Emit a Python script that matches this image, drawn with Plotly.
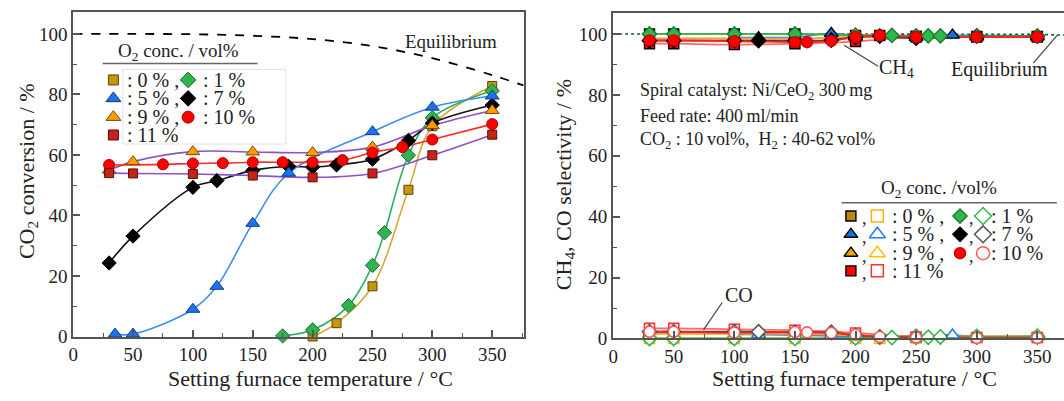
import plotly.graph_objects as go

FONT = "Liberation Serif"
INK = "#222222"
AXIS = "#555555"

# ---------------- Left panel: CO2 conversion (%) vs furnace temperature (°C) ----------------
t_0 = [200, 220, 250, 280, 300, 350]
conv_0 = [0.0, 4.4, 16.6, 48.5, 69.5, 82.8]
t_1 = [175, 200, 230, 250, 260, 280, 300, 350]
conv_1 = [0.2, 2.2, 10.2, 23.5, 34.3, 59.9, 72.3, 81.2]
t_5 = [35, 50, 100, 120, 150, 180, 250, 300, 350]
conv_5 = [0.8, 0.8, 9.0, 16.6, 37.4, 54.0, 67.7, 75.8, 79.5]
t_7 = [30, 50, 100, 120, 150, 180, 200, 220, 250, 280, 300, 350]
conv_7 = [24.3, 33.2, 49.3, 51.5, 54.9, 56.2, 56.0, 56.7, 58.6, 64.8, 70.5, 76.5]
t_9 = [30, 50, 100, 150, 200, 250, 300, 350]
conv_9 = [55.0, 57.8, 61.1, 61.0, 60.8, 62.6, 69.7, 74.7]
t_10 = [30, 75, 100, 125, 150, 175, 200, 225, 250, 275, 300, 350]
conv_10 = [56.7, 56.9, 57.2, 57.3, 57.6, 57.6, 57.6, 58.3, 60.8, 62.6, 65.1, 70.2]
t_11 = [30, 50, 100, 150, 200, 250, 300, 350]
conv_11 = [54.0, 53.9, 53.7, 53.2, 52.6, 53.9, 59.9, 66.7]
eq_t = [0, 50, 100, 150, 200, 250, 300, 350, 376]
eq_conv = [100.0, 100.0, 99.9, 99.4, 98.3, 96.0, 92.0, 86.4, 83.0]

# ---------------- Right panel: CH4 / CO selectivity (%) ----------------
tr_0 = [30, 50, 100, 150, 200, 220, 250, 300, 350]
ch4_0 = [100.0, 100.0, 100.0, 100.0, 99.5, 99.5, 99.3, 99.2, 99.2]
co_0 = [0.0, 0.0, 0.0, 0.0, 0.0, 0.0, 0.2, 0.3, 0.3]
tr_1 = [30, 50, 100, 150, 200, 230, 250, 260, 270, 300, 350]
ch4_1 = [100.0, 100.0, 100.0, 100.0, 99.6, 99.5, 99.4, 99.4, 99.4, 99.3, 99.3]
co_1 = [0.0, 0.0, 0.0, 0.0, 0.2, 0.3, 0.4, 0.4, 0.5, 0.6, 0.7]
tr_5 = [100, 120, 150, 180, 200, 250, 280, 300, 350]
ch4_5 = [98.8, 98.8, 98.9, 100.2, 99.4, 99.4, 99.6, 99.4, 99.4]
co_5 = [1.3, 1.3, 1.1, 0.9, 0.5, 0.5, 1.1, 0.6, 0.6]
tr_7 = [30, 50, 100, 120, 150, 180, 200, 220, 250, 300, 350]
ch4_7 = [97.8, 97.8, 97.8, 97.8, 97.8, 98.0, 99.0, 99.3, 98.6, 99.4, 99.3]
co_7 = [2.2, 2.2, 2.2, 2.2, 2.0, 2.0, 1.0, 0.5, 0.6, 0.5, 0.5]
tr_9 = [30, 50, 100, 150, 200, 250, 300, 350]
ch4_9 = [98.5, 98.5, 98.5, 98.5, 99.0, 98.8, 99.0, 99.0]
co_9 = [1.5, 1.5, 1.5, 1.5, 1.0, 0.8, 0.7, 0.7]
tr_10 = [30, 50, 100, 150, 160, 180, 200, 220, 250, 300, 350]
ch4_10 = [97.9, 97.9, 97.6, 97.3, 97.3, 97.7, 99.0, 99.5, 99.0, 99.0, 99.0]
co_10 = [2.2, 2.2, 1.9, 2.1, 2.0, 1.8, 1.2, 0.5, 0.3, 0.2, 0.2]
tr_11 = [30, 50, 100, 150, 200, 250, 300, 350]
ch4_11 = [96.8, 96.8, 96.5, 96.8, 97.5, 99.0, 99.0, 99.0]
co_11 = [3.3, 3.3, 3.0, 2.7, 1.8, 0.5, 0.3, 0.3]
eq_t_r = [0, 100, 200, 300, 350, 372]
eq_sel = [100.0, 100.0, 100.0, 100.0, 99.9, 99.6]

o2_labels = ["0 %", "1 %", "5 %", "7 %", "9 %", "10 %", "11 %"]

PURPLE = "#8d52c6"
left_series = [
    dict(lab="0 %", t=t_0, y=conv_0, sym="square", fill="#c8960c", edge="#5a4300", line="#d4a838", size=9),
    dict(lab="1 %", t=t_1, y=conv_1, sym="diamond", fill="#2eb34f", edge="#1b6b30", line="#28b060", size=11),
    dict(lab="7 %", t=t_7, y=conv_7, sym="diamond", fill="#000000", edge="#000000", line="#111111", size=11),
    dict(lab="5 %", t=t_5, y=conv_5, sym="triangle-up", fill="#1a74f0", edge="#0b3a80", line="#3d8ef0", size=12),
    dict(lab="9 %", t=t_9, y=conv_9, sym="triangle-up", fill="#ff9a00", edge="#7a4a00", line=PURPLE, size=12),
    dict(lab="10 %", t=t_10, y=conv_10, sym="circle", fill="#ff0000", edge="#b00000", line="#ff2a2a", size=11),
    dict(lab="11 %", t=t_11, y=conv_11, sym="square", fill="#c4241a", edge="#5a0e08", line=PURPLE, size=9),
]

right_series = [
    dict(lab="0 %", t=tr_0, ch4=ch4_0, co=co_0, sym="square", fill="#b8860b", fedge="#000000", open="#ffb000", line="#e8cf3a", size=10),
    dict(lab="5 %", t=tr_5, ch4=ch4_5, co=co_5, sym="triangle-up", fill="#1a6fe8", fedge="#000000", open="#1a7ff0", line="#3a80e6", size=12),
    dict(lab="9 %", t=tr_9, ch4=ch4_9, co=co_9, sym="triangle-up", fill="#f0a500", fedge="#000000", open="#ffc000", line="#f0a030", size=12),
    dict(lab="11 %", t=tr_11, ch4=ch4_11, co=co_11, sym="square", fill="#ff0000", fedge="#000000", open="#ff3030", line="#ff6a6a", size=10),
    dict(lab="7 %", t=tr_7, ch4=ch4_7, co=co_7, sym="diamond", fill="#000000", fedge="#000000", open="#555555", line="#444444", size=11),
    dict(lab="1 %", t=tr_1, ch4=ch4_1, co=co_1, sym="diamond", fill="#2db84c", fedge="#1e7a33", open="#2db84c", line="#34b050", size=11),
    dict(lab="10 %", t=tr_10, ch4=ch4_10, co=co_10, sym="circle", fill="#ff0000", fedge="#cc0000", open="#ff5a5a", line="#ff2020", size=11),
]

fig = go.Figure()

# ---- left panel lines ----
fig.add_trace(go.Scatter(x=eq_t, y=eq_conv, mode="lines", xaxis="x", yaxis="y",
                         line=dict(color="#000000", width=1.8, dash="dash", shape="spline"),
                         showlegend=False, hoverinfo="skip"))
for s in left_series:
    fig.add_trace(go.Scatter(x=s["t"], y=s["y"], mode="lines", xaxis="x", yaxis="y",
                             line=dict(color=s["line"], width=1.6, shape="spline", smoothing=1.0),
                             showlegend=False, hoverinfo="skip"))
for s in left_series:
    fig.add_trace(go.Scatter(x=s["t"], y=s["y"], mode="markers", xaxis="x", yaxis="y",
                             marker=dict(symbol=s["sym"], size=s["size"], color=s["fill"],
                                         line=dict(color=s["edge"], width=1)),
                             cliponaxis=False, name=s["lab"], showlegend=False))

# ---- right panel lines ----
fig.add_trace(go.Scatter(x=eq_t_r, y=eq_sel, mode="lines", xaxis="x2", yaxis="y2",
                         line=dict(color="#1f4f4f", width=1.6, dash="dot"),
                         showlegend=False, hoverinfo="skip"))
for s in right_series:
    for key in ("ch4", "co"):
        fig.add_trace(go.Scatter(x=s["t"], y=s[key], mode="lines", xaxis="x2", yaxis="y2",
                                 line=dict(color=s["line"], width=1.8, shape="spline", smoothing=1.0),
                                 showlegend=False, hoverinfo="skip", cliponaxis=False))
for s in right_series:
    fig.add_trace(go.Scatter(x=s["t"], y=s["ch4"], mode="markers", xaxis="x2", yaxis="y2",
                             marker=dict(symbol=s["sym"], size=s["size"], color=s["fill"],
                                         line=dict(color=s["fedge"], width=1.4)),
                             cliponaxis=False, name="CH4 " + s["lab"], showlegend=False))
    fig.add_trace(go.Scatter(x=s["t"], y=s["co"], mode="markers", xaxis="x2", yaxis="y2",
                             marker=dict(symbol=s["sym"], size=s["size"], color="#ffffff",
                                         line=dict(color=s["open"], width=1.6)),
                             cliponaxis=False, name="CO " + s["lab"], showlegend=False))

annotations = []
shapes = []

def txt(x, y, text, xref, yref, size=18, xanchor="center", angle=0):
    annotations.append(dict(x=x, y=y, xref=xref, yref=yref, text=text, showarrow=False,
                            xanchor=xanchor, yanchor="middle", textangle=angle,
                            font=dict(family=FONT, size=size, color=INK)))

def entry_label(i, lab):
    # trailing comma when another entry follows in the same row
    return ": " + lab + (" ," if i % 2 == 0 and i + 1 < len(o2_labels) else "")

# ---- left legend (custom, two columns) ----
L_rows = [84.8, 78.7, 72.5, 66.6]
L_mark_x = [33.6, 96.0]
L_text_x = [43.0, 107.0]
left_by_lab = {s["lab"]: s for s in left_series}
for i, lab in enumerate(o2_labels):
    row, col = divmod(i, 2)
    s = left_by_lab[lab]
    fig.add_trace(go.Scatter(x=[L_mark_x[col]], y=[L_rows[row]], mode="markers", xaxis="x", yaxis="y",
                             marker=dict(symbol=s["sym"], size=s["size"] + 1, color=s["fill"],
                                         line=dict(color=s["edge"], width=1)),
                             cliponaxis=False, showlegend=False, hoverinfo="skip"))
    txt(L_text_x[col], L_rows[row], entry_label(i, lab), "x", "y", size=20, xanchor="left")
txt(88.1, 94.1, "O<sub>2</sub> conc. / vol%", "x", "y", size=19)
shapes.append(dict(type="line", xref="x", yref="y", x0=24.6, x1=154, y0=90.2, y1=90.2,
                   line=dict(color="#666666", width=1.5)))
shapes.append(dict(type="rect", xref="x", yref="y", x0=41.5, x1=177.7, y0=63.6, y1=88.3,
                   line=dict(color="#e2e2e2", width=1)))
txt(316, 97.6, "Equilibrium", "x", "y", size=19)

# ---- right legend (custom, two columns with filled + open markers) ----
R_rows = [40.2, 34.2, 28.0, 22.2]
R_fill_x = [196.2, 286.2]
R_comma_x = [207.5, 295.8]
R_open_x = [218.0, 305.2]
R_text_x = [228.5, 310.4]
right_by_lab = {s["lab"]: s for s in right_series}
for i, lab in enumerate(o2_labels):
    row, col = divmod(i, 2)
    s = right_by_lab[lab]
    fig.add_trace(go.Scatter(x=[R_fill_x[col]], y=[R_rows[row]], mode="markers", xaxis="x2", yaxis="y2",
                             marker=dict(symbol=s["sym"], size=s["size"], color=s["fill"],
                                         line=dict(color=s["fedge"], width=1.4)),
                             cliponaxis=False, showlegend=False, hoverinfo="skip"))
    fig.add_trace(go.Scatter(x=[R_open_x[col]], y=[R_rows[row]], mode="markers", xaxis="x2", yaxis="y2",
                             marker=dict(symbol=s["sym"], size=s["size"] + 2, color="#ffffff",
                                         line=dict(color=s["open"], width=1.5)),
                             cliponaxis=False, showlegend=False, hoverinfo="skip"))
    txt(R_comma_x[col], R_rows[row] - 0.8, ",", "x2", "y2", size=18)
    txt(R_text_x[col], R_rows[row], entry_label(i, lab), "x2", "y2", size=20, xanchor="left")
txt(268.9, 49.1, "O<sub>2</sub> conc. /vol%", "x2", "y2", size=19)
shapes.append(dict(type="line", xref="x2", yref="y2", x0=188.4, x1=366.1, y0=44.6, y1=44.6,
                   line=dict(color="#666666", width=1.5)))

# right panel labels
txt(20.7, 81.1, "Spiral catalyst: Ni/CeO<sub>2</sub> 300\u2009mg", "x2", "y2", size=18, xanchor="left")
txt(20.7, 73.2, "Feed rate: 400\u2009ml/min", "x2", "y2", size=18, xanchor="left")
txt(20.7, 65.0, "CO<sub>2</sub> : 10\u2009vol%,\u00a0 H<sub>2</sub> : 40-62\u2009vol%", "x2", "y2", size=18, xanchor="left")
txt(234, 88.6, "CH<sub>4</sub>", "x2", "y2", size=20)
txt(318.6, 88.3, "Equilibrium", "x2", "y2", size=20)
txt(104, 14.3, "CO", "x2", "y2", size=20)
for (xa, ya, xb, yb) in [(218.6, 89.4, 190.6, 96.3), (346.6, 90.4, 366.7, 99.7), (90, 11.8, 74.6, 2.8)]:
    shapes.append(dict(type="line", xref="x2", yref="y2", x0=xa, y0=ya, x1=xb, y1=yb,
                       line=dict(color="#444444", width=1.2)))

# axis titles
txt(23 / 1064, 1 - 176 / 401, "CO<sub>2</sub> conversion / %", "paper", "paper", size=22, angle=-90)
txt(562 / 1064, 1 - 190 / 401, "CH<sub>4</sub>, CO selectivity / %", "paper", "paper", size=22, angle=-90)
txt(307 / 1064, 1 - 389 / 401, "Setting furnace temperature / °C", "paper", "paper", size=22)
txt(854 / 1064, 1 - 389 / 401, "Setting furnace temperature / °C", "paper", "paper", size=22)

tickfont = dict(family=FONT, size=19, color=INK)

def xax(domain, rng, anchor, mirror):
    return dict(domain=domain, range=rng, anchor=anchor, showline=True, linecolor=AXIS, linewidth=2,
                mirror=mirror, ticks="inside", ticklen=7, tickwidth=1.5, tickcolor=AXIS,
                tick0=0, dtick=50, ticklabelstandoff=0,
                minor=dict(ticks="inside", ticklen=4, dtick=25, tickcolor=AXIS, tickwidth=1.2),
                showgrid=False, zeroline=False, tickfont=tickfont, fixedrange=True)

def yax(domain, rng, anchor, mirror):
    return dict(domain=domain, range=rng, anchor=anchor, showline=True, linecolor=AXIS, linewidth=2,
                mirror=mirror, ticks="inside", ticklen=7, tickwidth=1.5, tickcolor=AXIS,
                tick0=0, dtick=20,
                minor=dict(ticks="inside", ticklen=4, dtick=10, tickcolor=AXIS, tickwidth=1.2),
                showgrid=False, zeroline=False, tickfont=tickfont, fixedrange=True)

fig.update_layout(
    width=1064, height=401,
    margin=dict(l=0, r=0, t=0, b=0),
    paper_bgcolor="white", plot_bgcolor="white",
    font=dict(family=FONT, color=INK),
    xaxis=xax([68.5 / 1064, 521.5 / 1064], [0, 376.6], "y", True),
    yaxis=yax([1 - 346 / 401, 1 - 12.5 / 401], [0, 107.2], "x", True),
    xaxis2=xax([611 / 1064, 1.0], [0, 372], "y2", True),
    yaxis2=yax([1 - 348 / 401, 1 - 13 / 401], [0, 107], "x2", False),
    annotations=annotations,
    shapes=shapes,
    showlegend=False,
)

fig.write_html("out.html")
